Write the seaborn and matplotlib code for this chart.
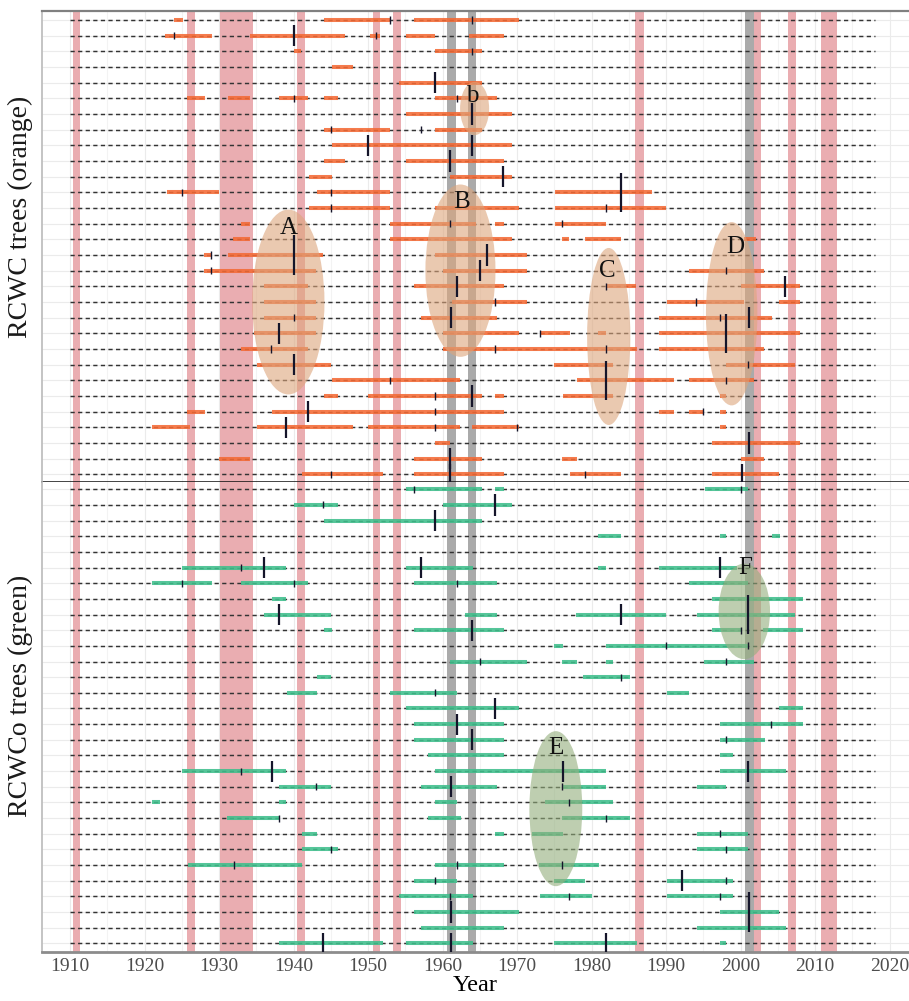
import pandas as pd
import seaborn as sns
import matplotlib.pyplot as plt
from matplotlib.patches import Ellipse
from matplotlib.ticker import MultipleLocator

# year range covered by the dashed series lines
first_year, last_year = 1910, 2018

# event bands (red) and pointer years (grey)
red_bands = [(1910.4, 1911.3), (1925.7, 1926.8), (1930.1, 1934.5), (1940.5, 1941.5),
             (1950.6, 1951.6), (1953.4, 1954.4), (1985.8, 1987.1), (2001.8, 2002.7),
             (2006.3, 2007.4), (2010.8, 2013.0)]
grey_bands = [(1960.6, 1961.8), (1963.4, 1964.5), (2000.6, 2001.8)]

# RCWC trees: coloured year spans per tree (top to bottom)
rcwc_spans = [
    [(1923.9, 1925.1), (1944.1, 1953.0), (1956.1, 1970.2)],
    [(1922.8, 1929.1), (1934.1, 1946.9), (1950.2, 1951.6), (1955.1, 1959.0), (1963.6, 1968.2)],
    [(1940.0, 1941.0), (1959.0, 1965.3)],
    [(1945.1, 1948.0)],
    [(1954.1, 1965.3)],
    [(1925.7, 1928.1), (1931.2, 1934.1), (1938.1, 1942.0), (1944.1, 1946.0), (1959.0, 1967.3)],
    [(1955.1, 1969.3)],
    [(1944.1, 1953.0), (1959.0, 1965.3)],
    [(1945.1, 1969.3)],
    [(1944.1, 1946.9), (1955.1, 1968.2)],
    [(1942.1, 1945.1), (1961.0, 1969.3)],
    [(1923.0, 1930.0), (1943.1, 1953.0), (1975.1, 1988.1)],
    [(1942.1, 1953.0), (1959.0, 1970.2), (1975.1, 1990.0)],
    [(1932.9, 1934.1), (1953.0, 1964.5), (1967.0, 1968.2), (1975.1, 1982.0)],
    [(1931.9, 1934.1), (1953.0, 1969.3), (1976.0, 1977.0), (1979.1, 1984.0), (2000.4, 2002.0)],
    [(1928.0, 1929.0), (1931.2, 1944.0), (1959.0, 1971.3)],
    [(1928.0, 1943.0), (1960.0, 1971.3), (1993.1, 2003.1)],
    [(1936.0, 1942.0), (1956.1, 1968.2), (1982.0, 1986.0), (2000.1, 2008.0)],
    [(1936.0, 1943.0), (1961.2, 1971.3), (1990.1, 2000.4), (2005.2, 2008.0)],
    [(1936.0, 1943.0), (1957.1, 1967.3), (1989.1, 2004.2)],
    [(1934.7, 1943.0), (1960.0, 1970.2), (1973.1, 1977.1), (1980.9, 1982.0), (1989.1, 2008.0)],
    [(1932.9, 1942.0), (1960.0, 1986.1), (1989.1, 2003.1)],
    [(1935.1, 1945.0), (1974.9, 1982.9), (1998.1, 2007.3)],
    [(1945.1, 1962.3), (1978.0, 1991.0), (1993.1, 2001.8)],
    [(1944.1, 1946.0), (1950.0, 1965.3), (1967.0, 1968.2), (1976.2, 1982.9), (1997.2, 1998.1)],
    [(1925.7, 1928.1), (1937.1, 1968.2), (1989.1, 1991.1), (1993.1, 1995.0), (1997.2, 1998.1)],
    [(1921.0, 1926.1), (1935.1, 1948.0), (1950.0, 1962.3), (1964.0, 1970.2), (1997.2, 1998.1)],
    [(1959.0, 1961.0), (1996.1, 2008.0)],
    [(1930.0, 1934.1), (1956.1, 1965.3), (1976.0, 1978.0), (2000.1, 2003.1)],
    [(1941.1, 1952.0), (1956.1, 1968.2), (1977.1, 1984.0), (1996.1, 2005.1)],
]
# RCWC marker years per tree: (year, size class 1 small / 2 large / 3 extra large)
rcwc_ticks = [
    [(1953.0, 1), (1964.0, 1)],
    [(1923.9, 1), (1940.0, 2), (1951.0, 1)],
    [(1964.0, 1)],
    [],
    [(1959.0, 2)],
    [(1940.0, 1), (1962.0, 1)],
    [(1964.0, 2)],
    [(1945.0, 1), (1957.1, 1)],
    [(1950.0, 2), (1964.0, 2)],
    [(1961.0, 2)],
    [(1968.1, 2)],
    [(1925.0, 1), (1945.0, 1), (1984.0, 3)],
    [(1945.0, 1), (1982.0, 1)],
    [(1961.0, 1), (1976.0, 1)],
    [],
    [(1928.9, 1), (1940.0, 3), (1966.0, 2)],
    [(1928.9, 1), (1965.0, 2), (1998.0, 1)],
    [(1962.0, 2), (1982.0, 1), (2006.0, 2)],
    [(1967.0, 1), (1994.0, 1)],
    [(1940.0, 1), (1961.1, 2), (1997.2, 1), (2001.1, 2)],
    [(1938.1, 2), (1973.1, 1), (1998.0, 3)],
    [(1937.0, 1), (1967.0, 1), (1982.0, 1)],
    [(1940.0, 2), (2001.0, 1)],
    [(1953.0, 1), (1982.0, 3), (1998.0, 1)],
    [(1959.0, 1), (1964.0, 2)],
    [(1942.0, 2), (1959.0, 1), (1995.0, 1)],
    [(1939.0, 2), (1959.0, 1), (1970.0, 1)],
    [(2001.1, 2)],
    [(1961.0, 2)],
    [(1945.0, 1), (1961.0, 2), (1979.1, 1), (2000.2, 2)],
]

# RCWCo trees
rcwco_spans = [
    [(1955.1, 1965.3), (1967.0, 1968.2), (1995.2, 2001.0)],
    [(1940.0, 1946.0), (1960.0, 1969.3)],
    [(1944.1, 1965.3)],
    [(1980.9, 1984.0), (1997.2, 1998.1), (2004.2, 2005.3)],
    [],
    [(1925.0, 1939.0), (1955.1, 1964.1), (1980.9, 1982.0), (1989.1, 1999.5)],
    [(1921.0, 1929.1), (1932.9, 1942.0), (1956.1, 1967.3), (1993.1, 2001.0)],
    [(1937.1, 1939.0), (1996.1, 2008.4)],
    [(1936.0, 1945.0), (1963.0, 1967.3), (1977.9, 1990.0), (1994.1, 2007.3)],
    [(1944.1, 1945.1), (1956.1, 1968.2), (1996.1, 2000.0), (2003.0, 2008.4)],
    [(1974.9, 1976.2), (1982.0, 2001.0)],
    [(1961.0, 1971.3), (1976.0, 1978.0), (1982.0, 1982.9), (1995.1, 2001.8)],
    [(1943.1, 1945.0), (1978.9, 1985.2)],
    [(1939.1, 1943.1), (1953.0, 1962.0), (1990.1, 1993.1)],
    [(1955.1, 1970.2), (2005.2, 2008.4)],
    [(1956.1, 1968.2), (1997.2, 2008.4)],
    [(1956.1, 1968.2), (1997.2, 2003.3)],
    [(1958.1, 1968.2), (1997.2, 1999.0)],
    [(1925.0, 1939.0), (1959.0, 1982.0), (1997.2, 2006.1)],
    [(1938.1, 1945.0), (1957.1, 1967.3), (1976.1, 1982.0), (1994.1, 1998.1)],
    [(1921.0, 1922.1), (1938.1, 1939.0), (1959.0, 1962.0), (1973.8, 1982.9)],
    [(1931.1, 1938.1), (1958.1, 1962.5), (1976.0, 1985.2)],
    [(1941.1, 1943.1), (1967.0, 1968.2), (1972.0, 1976.2), (1994.1, 2001.0)],
    [(1941.1, 1946.0), (1994.1, 2001.0)],
    [(1925.9, 1941.1), (1959.0, 1968.2), (1972.9, 1981.0)],
    [(1956.1, 1962.0), (1974.9, 1979.1), (1990.1, 1999.0)],
    [(1954.1, 1964.1), (1973.1, 1980.0), (1990.1, 1999.0)],
    [(1956.1, 1970.2), (1997.2, 2005.1)],
    [(1957.1, 1968.2), (1994.1, 2006.1)],
    [(1938.1, 1952.0), (1955.1, 1964.1), (1974.9, 1986.1), (1997.2, 1998.1)],
]
rcwco_ticks = [
    [(1956.1, 1), (2000.0, 1)],
    [(1944.0, 1), (1967.0, 2)],
    [(1959.0, 2)],
    [],
    [],
    [(1932.9, 1), (1936.0, 2), (1957.1, 2), (1997.2, 2)],
    [(1925.0, 1), (1940.0, 1), (1962.0, 1)],
    [],
    [(1938.1, 2), (1984.0, 2), (2001.0, 3)],
    [(1964.0, 2), (2000.0, 1)],
    [(1990.0, 1), (2001.0, 1)],
    [(1965.0, 1), (1998.0, 1)],
    [(1984.0, 1)],
    [(1959.0, 1)],
    [(1967.0, 2)],
    [(1962.0, 2), (2004.1, 1)],
    [(1964.0, 2), (1998.0, 1)],
    [],
    [(1932.9, 1), (1937.1, 2), (1976.1, 2), (2001.0, 2)],
    [(1943.0, 1), (1961.1, 2), (1976.0, 1)],
    [(1977.0, 1)],
    [(1938.1, 1), (1982.0, 1)],
    [(1997.2, 1)],
    [(1945.0, 1), (1998.0, 1)],
    [(1932.0, 1), (1962.0, 1), (1976.0, 1)],
    [(1959.0, 1), (1992.1, 2), (1998.0, 1)],
    [(1961.0, 1), (1977.0, 1), (1997.2, 1)],
    [(1961.1, 2), (2001.1, 3)],
    [],
    [(1944.0, 2), (1961.1, 2), (1982.0, 2)],
]

# highlighted groups: label, centre year, centre row, width (years), height (rows)
rcwc_groups = [("A", 1939.3, 19.0, 9.7, 11.8), ("B", 1962.4, 17.0, 9.4, 11.0),
               ("b", 1964.3, 6.65, 3.9, 3.4), ("C", 1982.3, 21.2, 5.8, 11.3),
               ("D", 1998.8, 19.75, 6.9, 11.7)]
rcwc_group_labels = [(1939.4, 14.3), (1962.6, 12.6), (1964.0, 5.85), (1982.1, 17.0), (1999.3, 15.5)]
rcwco_groups = [("E", 1975.2, 21.4, 7.1, 9.9), ("F", 2000.5, 8.8, 6.9, 6.1)]
rcwco_group_labels = [(1975.2, 17.5), (2000.6, 6.0)]

tick_len = {1: 0.45, 2: 1.35, 3: 2.5}
tick_lw = {1: 1.0, 2: 1.6, 3: 1.6}

sns.set_theme(style="whitegrid")
plt.rcParams['font.family'] = ['Liberation Serif', 'DejaVu Serif']


def to_frames(spans, ticks):
    seg = pd.DataFrame([(i + 1, a, b) for i, row in enumerate(spans) for a, b in row],
                       columns=["row", "start", "end"])
    tk = pd.DataFrame([(i + 1, y, s) for i, row in enumerate(ticks) for y, s in row],
                      columns=["row", "year", "size"])
    return seg, tk


def draw_panel(ax, spans, ticks, colour, groups, labels, ell_colour, ylim):
    seg, tk = to_frames(spans, ticks)
    n = len(spans)
    rows = list(range(1, n + 1))
    ax.set_xlim(1906.24, 2022.6)
    ax.set_ylim(*ylim)
    ax.xaxis.set_major_locator(MultipleLocator(10))
    ax.xaxis.set_minor_locator(MultipleLocator(5))
    ax.set_yticks(rows)
    ax.set_yticklabels([])
    ax.tick_params(axis="y", length=0)
    ax.grid(which="major", axis="both", color="#EBEBEB", lw=0.8)
    ax.grid(which="minor", axis="x", color="#F3F3F3", lw=0.8)
    ax.set_axisbelow(True)
    for a, b in red_bands:
        ax.axvspan(a, b, color="#E39297", alpha=0.75, lw=0, zorder=1)
    for a, b in grey_bands:
        ax.axvspan(a, b, color="#A6A6A6", alpha=0.95, lw=0, zorder=1)
    ax.hlines(rows, first_year, last_year, colors="#333333", lw=1.05,
              linestyles=(0, (2.9, 2.3)), zorder=2)
    ax.hlines(seg["row"], seg["start"], seg["end"], colors=colour, lw=2.9,
              alpha=0.88, zorder=3)
    for (lab, cx, cy, w, h), (lx, ly) in zip(groups, labels):
        ax.add_patch(Ellipse((cx, cy), w, h, facecolor=ell_colour, edgecolor="none",
                             alpha=0.6, zorder=4))
        ax.text(lx, ly, lab, fontsize=18, ha="center", va="center", color="#111111", zorder=6)
    for s, part in tk.groupby("size"):
        half = tick_len[s] / 2
        ax.vlines(part["year"], part["row"] - half, part["row"] + half,
                  colors="#15152A", lw=tick_lw[s], zorder=5)
    ax.spines["right"].set_visible(False)


fig = plt.figure(figsize=(9.09, 10.01), dpi=100)
ax_top = fig.add_axes([0.0462, 0.51848, 0.9538, 0.47053])
ax_bot = fig.add_axes([0.0462, 0.04895, 0.9538, 0.46953])

draw_panel(ax_top, rcwc_spans, rcwc_ticks, "#F46A35", rcwc_groups, rcwc_group_labels,
           "#DDA57C", (30.49, 0.425))
draw_panel(ax_bot, rcwco_spans, rcwco_ticks, "#3FBF8C", rcwco_groups, rcwco_group_labels,
           "#93AE7C", (30.556, 0.534))

ax_top.tick_params(axis="x", labelbottom=False, length=0)
ax_top.spines["top"].set_color("#808080")
ax_top.spines["top"].set_linewidth(1.6)
ax_top.spines["left"].set_color("#BDBDBD")
ax_top.spines["bottom"].set_color("#111111")
ax_top.spines["bottom"].set_linewidth(1.1)
ax_bot.spines["top"].set_visible(False)
ax_bot.spines["left"].set_color("#BDBDBD")
ax_bot.spines["bottom"].set_color("#8C8C8C")
ax_bot.spines["bottom"].set_linewidth(2.0)
ax_bot.tick_params(axis="x", labelsize=14, labelcolor="#4D4D4D", length=0, pad=4)
ax_bot.set_xlabel("Year", fontsize=17.5, color="black", labelpad=0)

fig.text(0.022, 1 - 217 / 1001, "RCWC trees (orange)", rotation=90, fontsize=20,
         ha="center", va="center", color="#1A1A1A")
fig.text(0.022, 1 - 696 / 1001, "RCWCo trees (green)", rotation=90, fontsize=20,
         ha="center", va="center", color="#1A1A1A")

fig.savefig("out.png", dpi=100)
